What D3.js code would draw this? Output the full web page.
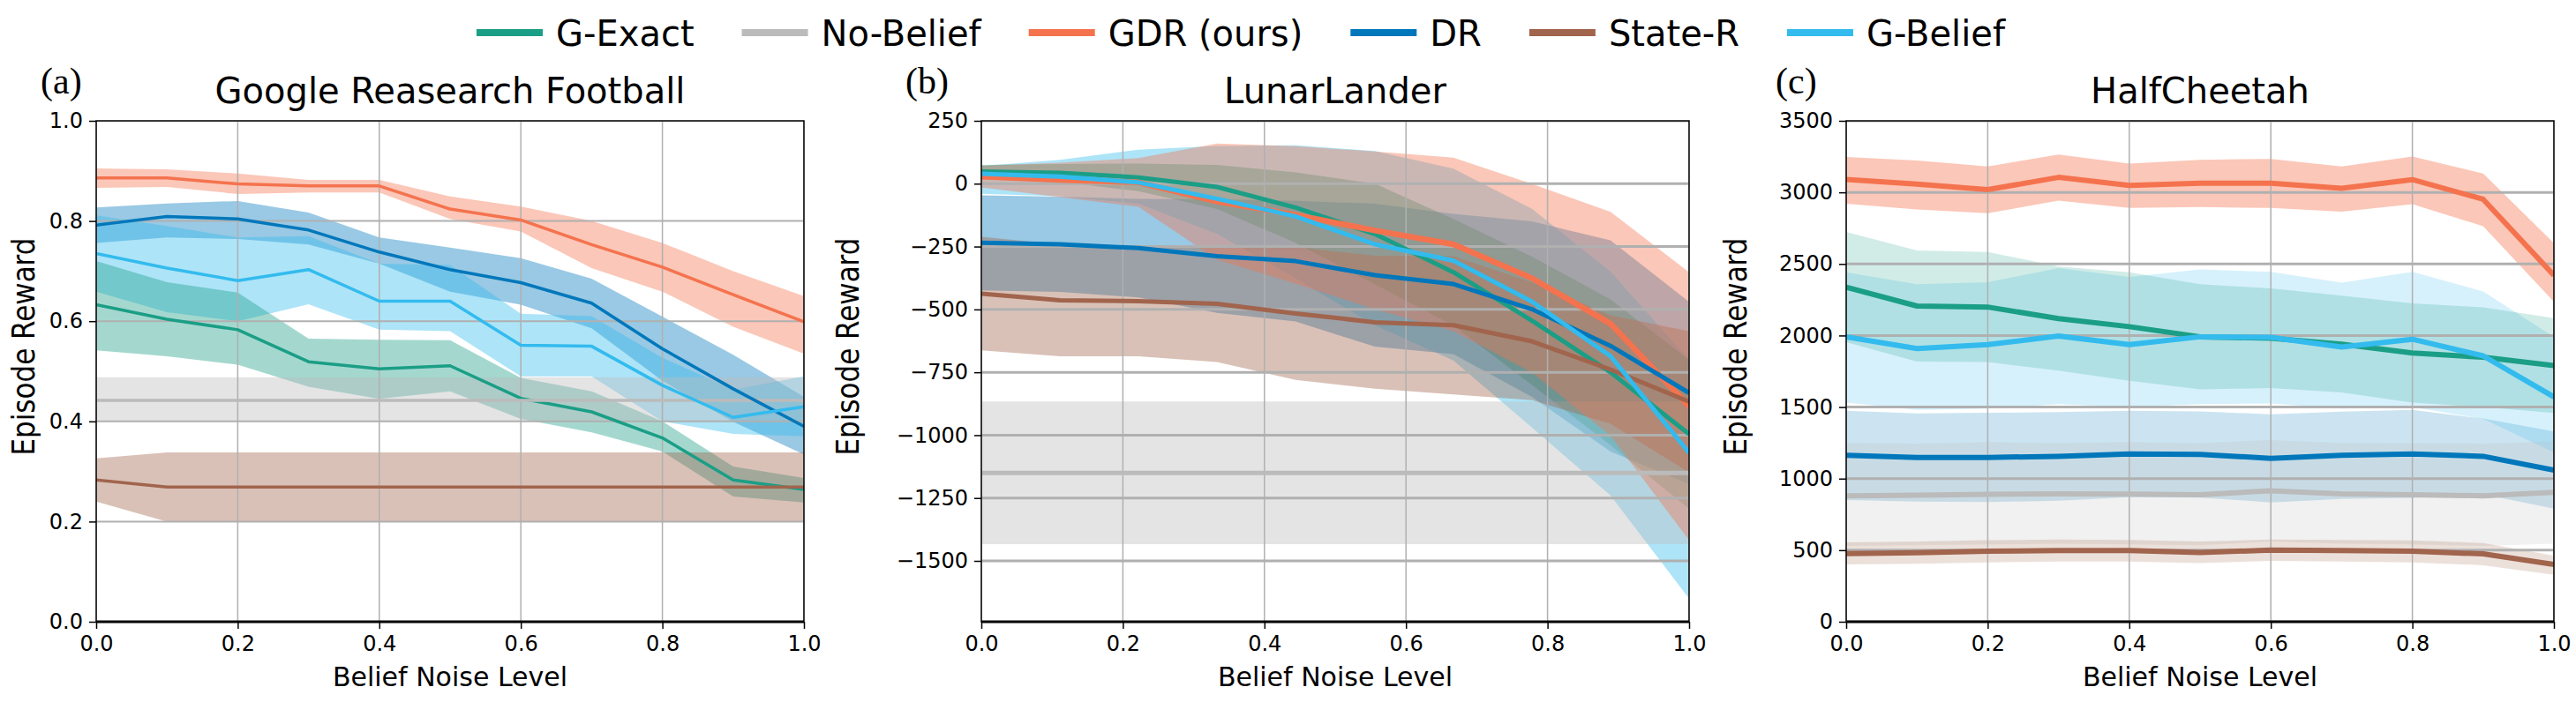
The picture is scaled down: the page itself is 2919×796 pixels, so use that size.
<!DOCTYPE html>
<html>
<head>
<meta charset="utf-8">
<script src="https://cdn.jsdelivr.net/npm/d3@7"></script>
<style>
  body { margin: 0; background: #fff; }
  text { font-family: "DejaVu Sans", sans-serif; fill: #000; }
</style>
</head>
<body>
<svg id="fig" width="2919" height="796"></svg>
<script>
// belief noise levels (x axis)
const noise11 = [0, 0.1, 0.2, 0.3, 0.4, 0.5, 0.6, 0.7, 0.8, 0.9, 1.0];
const noise10 = [0, 0.111, 0.222, 0.333, 0.444, 0.556, 0.667, 0.778, 0.889, 1.0];

// (a) Google Research Football
const football_GExact    = [0.633, 0.604, 0.583, 0.519, 0.505, 0.511, 0.446, 0.419, 0.367, 0.283, 0.264];
const football_GExact_hi = [0.720, 0.678, 0.657, 0.565, 0.563, 0.562, 0.487, 0.460, 0.400, 0.310, 0.287];
const football_GExact_lo = [0.542, 0.530, 0.513, 0.469, 0.445, 0.460, 0.405, 0.378, 0.340, 0.250, 0.238];
const football_NoBelief    = [0.442, 0.442, 0.442, 0.442, 0.442, 0.442, 0.442, 0.442, 0.442, 0.442, 0.442];
const football_NoBelief_hi = [0.488, 0.488, 0.488, 0.488, 0.488, 0.488, 0.488, 0.488, 0.488, 0.488, 0.488];
const football_NoBelief_lo = [0.400, 0.400, 0.400, 0.400, 0.400, 0.400, 0.400, 0.400, 0.400, 0.400, 0.400];
const football_GDR    = [0.886, 0.886, 0.874, 0.870, 0.870, 0.824, 0.802, 0.753, 0.708, 0.653, 0.599];
const football_GDR_hi = [0.905, 0.903, 0.895, 0.882, 0.882, 0.849, 0.829, 0.800, 0.756, 0.700, 0.650];
const football_GDR_lo = [0.866, 0.868, 0.854, 0.857, 0.857, 0.804, 0.779, 0.706, 0.659, 0.589, 0.535];
const football_DR    = [0.792, 0.809, 0.804, 0.782, 0.738, 0.703, 0.677, 0.636, 0.545, 0.465, 0.390];
const football_DR_hi = [0.827, 0.835, 0.840, 0.817, 0.767, 0.747, 0.726, 0.685, 0.609, 0.533, 0.449];
const football_DR_lo = [0.756, 0.767, 0.764, 0.753, 0.715, 0.659, 0.633, 0.586, 0.481, 0.399, 0.334];
const football_StateR    = [0.283, 0.269, 0.269, 0.269, 0.269, 0.269, 0.269, 0.269, 0.269, 0.269, 0.269];
const football_StateR_hi = [0.326, 0.338, 0.338, 0.338, 0.338, 0.338, 0.338, 0.338, 0.338, 0.338, 0.338];
const football_StateR_lo = [0.240, 0.200, 0.200, 0.200, 0.200, 0.200, 0.200, 0.200, 0.200, 0.200, 0.200];
const football_GBelief    = [0.735, 0.706, 0.681, 0.703, 0.640, 0.640, 0.552, 0.550, 0.472, 0.408, 0.429];
const football_GBelief_hi = [0.811, 0.790, 0.767, 0.770, 0.715, 0.712, 0.615, 0.610, 0.527, 0.463, 0.490];
const football_GBelief_lo = [0.659, 0.618, 0.600, 0.634, 0.583, 0.580, 0.490, 0.490, 0.400, 0.375, 0.370];

// (b) LunarLander
const lunar_GExact    = [48, 43, 25, -13, -95, -200, -352, -545, -750, -996];
const lunar_GExact_hi = [75, 78, 80, 75, 45, 0, -140, -290, -460, -700];
const lunar_GExact_lo = [21, 8, -30, -101, -235, -400, -564, -800, -1040, -1292];
const lunar_NoBelief    = [-1150, -1150, -1150, -1150, -1150, -1150, -1150, -1150, -1150, -1150];
const lunar_NoBelief_hi = [-866, -866, -866, -866, -866, -866, -866, -866, -866, -866];
const lunar_NoBelief_lo = [-1433, -1433, -1433, -1433, -1433, -1433, -1433, -1433, -1433, -1433];
const lunar_GDR    = [28, 15, 5, -71, -124, -186, -241, -376, -557, -885];
const lunar_GDR_hi = [71, 83, 102, 160, 149, 128, 104, -1, -112, -352];
const lunar_GDR_lo = [-15, -53, -92, -302, -397, -500, -586, -751, -1002, -1418];
const lunar_DR    = [-235, -241, -256, -288, -308, -364, -399, -499, -645, -832];
const lunar_DR_hi = [-46, -52, -60, -62, -68, -80, -120, -150, -225, -470];
const lunar_DR_lo = [-424, -430, -452, -514, -548, -648, -678, -848, -1065, -1194];
const lunar_StateR    = [-437, -464, -467, -478, -516, -551, -563, -627, -739, -867];
const lunar_StateR_hi = [-211, -242, -248, -247, -252, -287, -288, -393, -523, -586];
const lunar_StateR_lo = [-663, -686, -686, -709, -780, -815, -838, -861, -955, -1148];
const lunar_GBelief    = [40, 28, 5, -60, -130, -241, -306, -469, -686, -1070];
const lunar_GBelief_hi = [70, 95, 135, 150, 153, 130, 60, -100, -350, -700];
const lunar_GBelief_lo = [-40, -50, -80, -200, -376, -563, -703, -970, -1240, -1650];

// (c) HalfCheetah
const cheetah_GExact    = [2338, 2206, 2199, 2118, 2062, 1991, 1981, 1940, 1878, 1848, 1790];
const cheetah_GExact_hi = [2723, 2594, 2584, 2482, 2441, 2359, 2329, 2278, 2225, 2196, 2121];
const cheetah_GExact_lo = [1953, 1818, 1814, 1754, 1683, 1623, 1633, 1602, 1531, 1500, 1459];
const cheetah_NoBelief    = [880, 885, 890, 893, 892, 888, 915, 893, 888, 880, 905];
const cheetah_NoBelief_hi = [1250, 1245, 1255, 1250, 1255, 1248, 1270, 1250, 1248, 1245, 1260];
const cheetah_NoBelief_lo = [530, 535, 540, 545, 540, 535, 560, 545, 540, 530, 545];
const cheetah_GDR    = [3091, 3058, 3019, 3105, 3048, 3064, 3064, 3028, 3089, 2952, 2420];
const cheetah_GDR_hi = [3248, 3222, 3181, 3265, 3201, 3228, 3234, 3181, 3250, 3132, 2645];
const cheetah_GDR_lo = [2921, 2880, 2854, 2942, 2891, 2897, 2891, 2866, 2917, 2764, 2236];
const cheetah_DR    = [1163, 1148, 1148, 1156, 1173, 1169, 1142, 1163, 1173, 1156, 1060];
const cheetah_DR_hi = [1475, 1455, 1460, 1465, 1475, 1470, 1450, 1468, 1480, 1420, 1330];
const cheetah_DR_lo = [850, 840, 836, 846, 870, 868, 834, 858, 866, 890, 790];
const cheetah_StateR    = [476, 482, 493, 498, 497, 484, 500, 497, 493, 474, 400];
const cheetah_StateR_hi = [555, 560, 570, 575, 572, 560, 575, 572, 568, 550, 462];
const cheetah_StateR_lo = [400, 405, 415, 420, 420, 410, 425, 420, 415, 395, 328];
const cheetah_GBelief    = [1991, 1909, 1936, 1997, 1936, 1991, 1987, 1919, 1974, 1858, 1571];
const cheetah_GBelief_hi = [2441, 2359, 2373, 2471, 2410, 2461, 2445, 2369, 2445, 2308, 1990];
const cheetah_GBelief_lo = [1531, 1480, 1490, 1520, 1500, 1520, 1525, 1490, 1500, 1418, 1183];

// tick values
const footballTicks = [0.0, 0.2, 0.4, 0.6, 0.8, 1.0];
const lunarTicks = [250, 0, -250, -500, -750, -1000, -1250, -1500];
const cheetahTicks = [0, 500, 1000, 1500, 2000, 2500, 3000, 3500];
const noiseTicks = [0.0, 0.2, 0.4, 0.6, 0.8, 1.0];

// legend order
const methods = [
    { key: 'GExact',   label: 'G-Exact',    color: '#1b9e86' },
    { key: 'NoBelief', label: 'No-Belief',  color: '#bbbbbb' },
    { key: 'GDR',      label: 'GDR (ours)', color: '#f4734e' },
    { key: 'DR',       label: 'DR',         color: '#0077bb' },
    { key: 'StateR',   label: 'State-R',    color: '#a1644c' },
    { key: 'GBelief',  label: 'G-Belief',   color: '#33bbee' }
];
// order the shaded bands are stacked in (later ones sit on top)
const bandOrder = ['DR', 'GBelief', 'GExact', 'NoBelief', 'StateR', 'GDR'];

// panel layout
const plotTop = 137, plotW = 802, plotH = 568;

const panels = [
    {
        tag: '(a)', title: 'Google Reasearch Football', left: 109, tagX: 46, ylabX: -70,
        x: noise11, domain: [0, 1], ticks: footballTicks, fmt: d3.format('.1f'),
        lineW: 3.5, gridH: 2, alpha: 0.4, gdrAlpha: 0.4,
        data: {
            GExact: [football_GExact, football_GExact_lo, football_GExact_hi],
            NoBelief: [football_NoBelief, football_NoBelief_lo, football_NoBelief_hi],
            GDR: [football_GDR, football_GDR_lo, football_GDR_hi],
            DR: [football_DR, football_DR_lo, football_DR_hi],
            StateR: [football_StateR, football_StateR_lo, football_StateR_hi],
            GBelief: [football_GBelief, football_GBelief_lo, football_GBelief_hi]
        }
    },
    {
        tag: '(b)', title: 'LunarLander', left: 1112, tagX: 1026, ylabX: -139,
        x: noise10, domain: [-1742, 250], ticks: lunarTicks, fmt: d3.format('d'),
        lineW: 5, gridH: 3, alpha: 0.4, gdrAlpha: 0.4,
        data: {
            GExact: [lunar_GExact, lunar_GExact_lo, lunar_GExact_hi],
            NoBelief: [lunar_NoBelief, lunar_NoBelief_lo, lunar_NoBelief_hi],
            GDR: [lunar_GDR, lunar_GDR_lo, lunar_GDR_hi],
            DR: [lunar_DR, lunar_DR_lo, lunar_DR_hi],
            StateR: [lunar_StateR, lunar_StateR_lo, lunar_StateR_hi],
            GBelief: [lunar_GBelief, lunar_GBelief_lo, lunar_GBelief_hi]
        }
    },
    {
        tag: '(c)', title: 'HalfCheetah', left: 2092, tagX: 2012, ylabX: -113,
        x: noise11, domain: [0, 3500], ticks: cheetahTicks, fmt: d3.format('d'),
        lineW: 6, gridH: 3, alpha: 0.2, gdrAlpha: 0.4,
        data: {
            GExact: [cheetah_GExact, cheetah_GExact_lo, cheetah_GExact_hi],
            NoBelief: [cheetah_NoBelief, cheetah_NoBelief_lo, cheetah_NoBelief_hi],
            GDR: [cheetah_GDR, cheetah_GDR_lo, cheetah_GDR_hi],
            DR: [cheetah_DR, cheetah_DR_lo, cheetah_DR_hi],
            StateR: [cheetah_StateR, cheetah_StateR_lo, cheetah_StateR_hi],
            GBelief: [cheetah_GBelief, cheetah_GBelief_lo, cheetah_GBelief_hi]
        }
    }
];

const svg = d3.select('#fig');
const colorOf = Object.fromEntries(methods.map(m => [m.key, m.color]));

function drawPanel(p) {
    const g = svg.append('g').attr('transform', `translate(${p.left},${plotTop})`);
    const x = d3.scaleLinear().domain([0, 1]).range([0, plotW]);
    const y = d3.scaleLinear().domain(p.domain).range([plotH, 0]);

    const clipId = 'clip' + p.left;
    g.append('clipPath').attr('id', clipId)
        .append('rect').attr('width', plotW).attr('height', plotH);
    const plot = g.append('g').attr('clip-path', `url(#${clipId})`);

    // shaded bands
    const area = d3.area()
        .x(d => x(d[0]))
        .y0(d => y(d[1]))
        .y1(d => y(d[2]));
    for (const key of bandOrder) {
        const [mean, lo, hi] = p.data[key];
        const pts = p.x.map((v, i) => [v, lo[i], hi[i]]);
        plot.append('path')
            .attr('d', area(pts))
            .attr('fill', colorOf[key])
            .attr('fill-opacity', key === 'GDR' ? p.gdrAlpha : p.alpha);
    }

    // grid
    plot.selectAll('.vgrid').data(noiseTicks).join('line')
        .attr('x1', d => x(d)).attr('x2', d => x(d))
        .attr('y1', 0).attr('y2', plotH)
        .attr('stroke', '#b0b0b0').attr('stroke-width', 1.5);
    plot.selectAll('.hgrid').data(p.ticks).join('line')
        .attr('x1', 0).attr('x2', plotW)
        .attr('y1', d => y(d)).attr('y2', d => y(d))
        .attr('stroke', '#b0b0b0').attr('stroke-width', p.gridH);

    // mean lines
    const line = d3.line().x(d => x(d[0])).y(d => y(d[1]));
    for (const m of methods) {
        const mean = p.data[m.key][0];
        plot.append('path')
            .attr('d', line(p.x.map((v, i) => [v, mean[i]])))
            .attr('fill', 'none')
            .attr('stroke', m.color)
            .attr('stroke-width', m.key === 'GDR' && p.tag === '(b)' ? p.lineW + 1.5 : p.lineW)
            .attr('stroke-linejoin', 'round');
    }

    // axes
    const yAxis = g.append('g')
        .call(d3.axisLeft(y).tickValues(p.ticks).tickFormat(p.fmt).tickSize(8).tickPadding(7));
    const xAxis = g.append('g').attr('transform', `translate(0,${plotH})`)
        .call(d3.axisBottom(x).tickValues(noiseTicks).tickFormat(d3.format('.1f')).tickSize(8).tickPadding(8));
    for (const ax of [xAxis, yAxis]) {
        ax.select('.domain').remove();
        ax.selectAll('.tick line').attr('stroke', '#000').attr('stroke-width', 1.5);
        ax.selectAll('.tick text')
            .style('font-family', '"DejaVu Sans", sans-serif')
            .style('font-size', '24px');
    }

    // spines
    g.append('rect').attr('width', plotW).attr('height', plotH)
        .attr('fill', 'none').attr('stroke', '#000').attr('stroke-width', 1.5);
    g.append('line').attr('x1', 0).attr('x2', plotW).attr('y1', plotH).attr('y2', plotH)
        .attr('stroke', '#000').attr('stroke-width', 3);

    // titles and labels
    g.append('text')
        .attr('x', plotW / 2).attr('y', -20)
        .attr('text-anchor', 'middle')
        .style('font-size', '40px')
        .text(p.title);
    g.append('text')
        .attr('transform', `translate(${p.ylabX},${plotH / 2 - 28}) scale(1.12,1) rotate(-90)`)
        .attr('text-anchor', 'middle')
        .style('font-size', '31px')
        .text('Episode Reward');
    g.append('text')
        .attr('x', plotW / 2).attr('y', 73 + plotH)
        .attr('text-anchor', 'middle')
        .style('font-size', '30px')
        .text('Belief Noise Level');
    svg.append('text')
        .attr('x', p.tagX).attr('y', 106)
        .style('font-family', '"Liberation Serif", serif')
        .style('font-size', '42px')
        .text(p.tag);
}

panels.forEach(drawPanel);

// legend across the top
const legend = svg.append('g').attr('transform', 'translate(540,0)');
let cursor = 0;
for (const m of methods) {
    const item = legend.append('g').attr('transform', `translate(${cursor},0)`);
    item.append('line')
        .attr('x1', 0).attr('x2', 75).attr('y1', 37).attr('y2', 37)
        .attr('stroke', m.color).attr('stroke-width', 8);
    const t = item.append('text')
        .attr('x', 90).attr('y', 52)
        .style('font-size', '40px')
        .text(m.label);
    cursor += 90 + t.node().getComputedTextLength() + 54;
}
</script>
</body>
</html>
